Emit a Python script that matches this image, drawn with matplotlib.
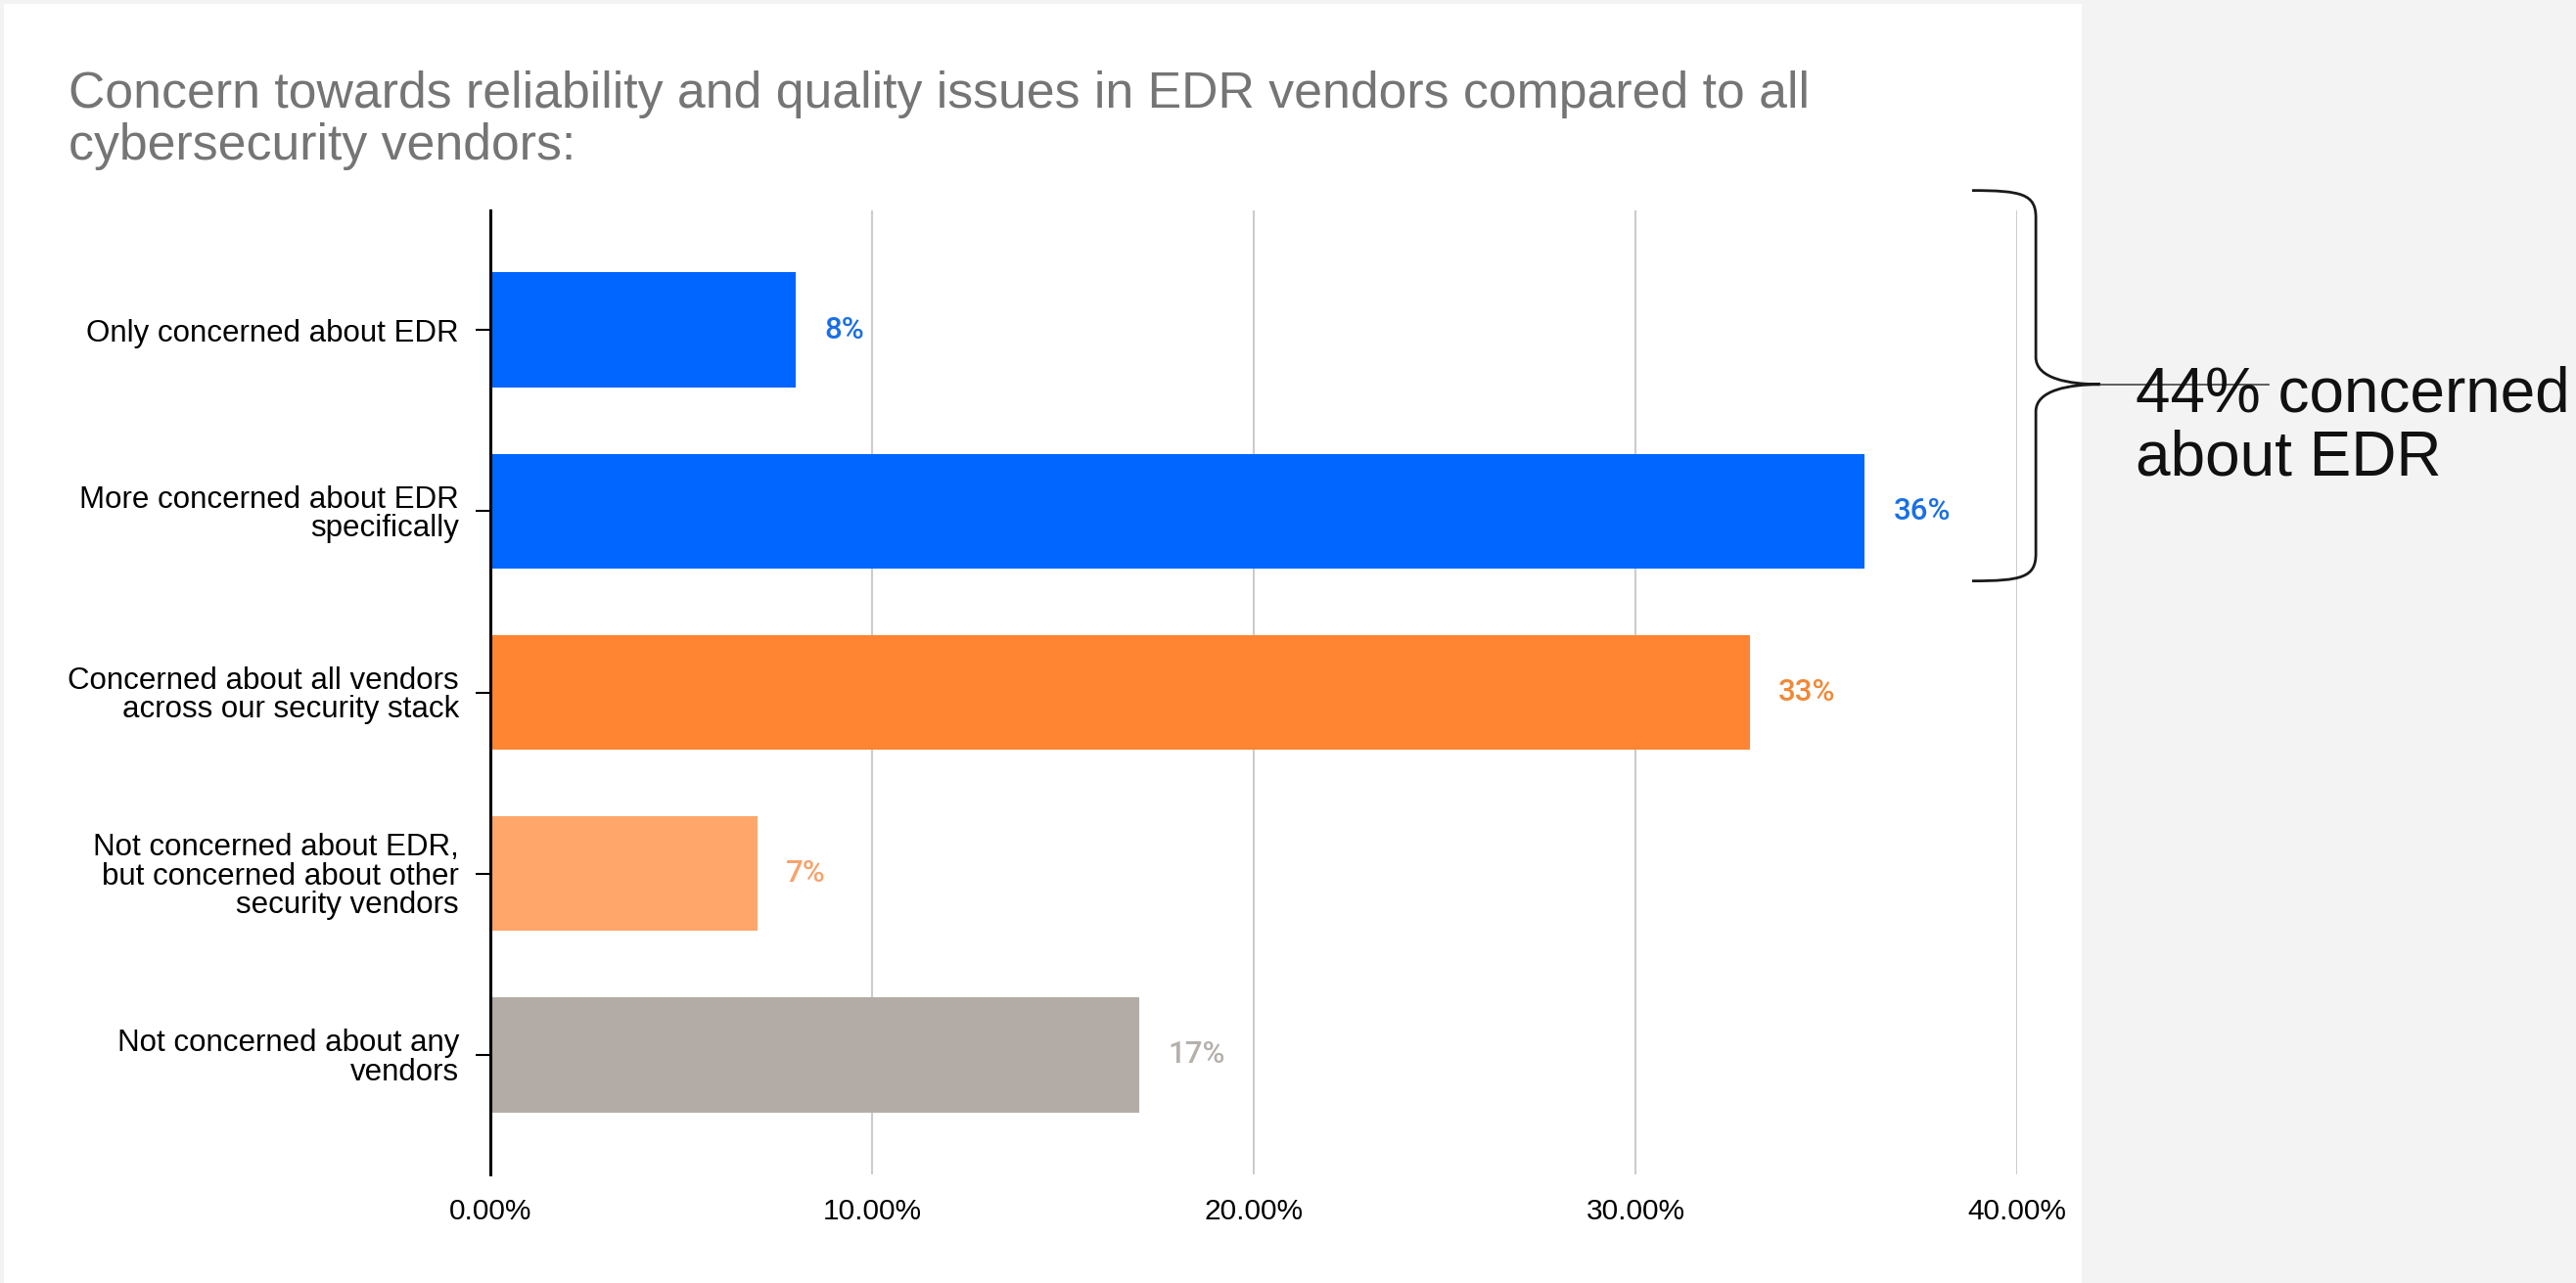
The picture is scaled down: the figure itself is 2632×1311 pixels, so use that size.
import numpy as np
import matplotlib
matplotlib.use("Agg")
import matplotlib.pyplot as plt
from matplotlib.patches import Rectangle, PathPatch
from matplotlib.path import Path
from matplotlib.ticker import FuncFormatter

categories = [
    "Only concerned about EDR",
    "More concerned about EDR\nspecifically",
    "Concerned about all vendors\nacross our security stack",
    "Not concerned about EDR,\nbut concerned about other\nsecurity vendors",
    "Not concerned about any\nvendors",
]
shares = [8, 36, 33, 7, 17]
bar_colors = ["#0066ff", "#0066ff", "#ff8533", "#ffa66b", "#b3aca6"]
label_colors = ["#1a6fe6", "#1a6fe6", "#f08838", "#f5a36e", "#b5b0ab"]
x_ticks = [0, 10, 20, 30, 40]
title = ("Concern towards reliability and quality issues in EDR vendors compared to all\n"
         "cybersecurity vendors:")
callout = "44% concerned\nabout EDR"

fig = plt.figure(figsize=(26.32, 13.11), dpi=100)
fig.patch.set_facecolor("#f3f3f3")
# white card on the left, grey strip on the right
fig.patches.append(Rectangle((4 / 2632, 0), (2127 - 4) / 2632, 1 - 4 / 1311,
                             transform=fig.transFigure, facecolor="white",
                             edgecolor="none", zorder=-10))

ax = fig.add_axes([501 / 2632, 1 - 1200 / 1311, 1560 / 2632, 985 / 1311])
ax.set_facecolor("none")

y = np.arange(len(categories))
ax.barh(y, shares, height=0.635, color=bar_colors, zorder=3)
for yi, v, c in zip(y, shares, label_colors):
    ax.text(v + 0.75, yi, f"{v}%", color=c, fontsize=22.5, family="Roboto",
            fontweight="medium", va="center", ha="left")

ax.set_xlim(0, 40)
ax.set_ylim(len(categories) - 1 + 0.66, -0.66)
ax.set_xticks(x_ticks)
ax.xaxis.set_major_formatter(FuncFormatter(lambda v, p: f"{v:.2f}%"))
ax.set_yticks(y)
ax.set_yticklabels(categories, fontsize=22.5, family="Liberation Sans", linespacing=0.97)
ax.tick_params(axis="y", direction="inout", length=22, width=1.5, color="black", pad=12)
ax.tick_params(axis="x", length=0, pad=17, labelsize=21.5)
for lab in ax.get_xticklabels():
    lab.set_family("Liberation Sans")

ax.grid(axis="x", color="#cccccc", linewidth=1.5, zorder=0)
for s in ["top", "right", "bottom"]:
    ax.spines[s].set_visible(False)
ax.spines["left"].set_linewidth(2.2)
ax.spines["left"].set_zorder(4)

fig.text(70 / 2632, 1 - 123 / 1311, title, fontsize=37.3, color="#757575",
         family="Liberation Sans", va="center", ha="left", linespacing=1.08)

# curly brace grouping the two EDR bars
xa, xb, xc, xd = 38.82, 40.49, 42.18, 46.6
ya, ym, yb = -0.77, 0.30, 1.385
verts = [
    (xa, ya), (xa + 1.3, ya), (xb, ya + 0.02), (xb, ya + 0.15),
    (xb, ym - 0.15),
    (xb, ym - 0.03), (xc - 0.8, ym), (xc, ym),
    (xc - 0.8, ym), (xb, ym + 0.03), (xb, ym + 0.15),
    (xb, yb - 0.15),
    (xb, yb - 0.02), (xa + 1.3, yb), (xa, yb),
]
codes = [Path.MOVETO, Path.CURVE4, Path.CURVE4, Path.CURVE4,
         Path.LINETO,
         Path.CURVE4, Path.CURVE4, Path.CURVE4,
         Path.CURVE4, Path.CURVE4, Path.CURVE4,
         Path.LINETO,
         Path.CURVE4, Path.CURVE4, Path.CURVE4]
ax.add_patch(PathPatch(Path(verts, codes), facecolor="none", edgecolor="#1a1a1a",
                       linewidth=2.0, clip_on=False, zorder=5))
ax.plot([xc, xd], [ym, ym], color="#444444", linewidth=1.2, clip_on=False, zorder=5)

fig.text(2182 / 2632, 1 - 436 / 1311, callout, fontsize=46, color="#111111",
         family="Liberation Sans", va="center", ha="left", linespacing=1.12)

fig.savefig("out.png", dpi=100, facecolor=fig.get_facecolor())
